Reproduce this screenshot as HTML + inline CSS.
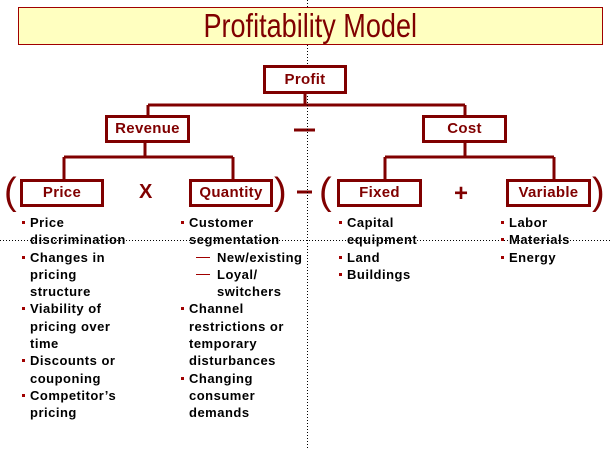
<!DOCTYPE html>
<html><head><meta charset="utf-8"><style>
body{margin:0;width:612px;height:450px;background:#fff;position:relative;overflow:hidden;font-family:"Liberation Sans",Arial,sans-serif}
.t{position:absolute;left:18px;top:7px;width:583px;height:36px;background:#ffffc0;border:1px solid #a00000;text-align:center;color:#800000;font-size:33px;line-height:36px;}
.t span{display:inline-block;transform:scaleX(0.82);}
.b{position:absolute;box-sizing:border-box;border:3px solid #800000;background:#fff;color:#800000;font-weight:bold;font-size:15px;text-align:center;letter-spacing:0.3px}
.l{position:absolute;font-weight:bold;font-size:13px;letter-spacing:0.5px;line-height:17.3px;color:#000;margin:0;padding:0;list-style:none}
.l li{position:relative}
.l li.s:before{content:"";position:absolute;left:-8px;top:7px;width:3px;height:3px;background:#a00000}
.l li.d:before{content:"";position:absolute;left:-21px;top:8px;width:14px;height:1.5px;background:#a00000}
.p{position:absolute;color:#800000;font-size:38px;line-height:40px}
.op{position:absolute;color:#800000;font-weight:bold;font-size:20px}
</style></head><body>
<svg width="612" height="450" style="position:absolute;left:0;top:0">
<g stroke="#800000" stroke-width="3" fill="none">
<path d="M305 92V105M148 105H465M148 105V116M465 105V116"/>
<path d="M145 142V157M64 157H233M64 157V179M233 157V179"/>
<path d="M465 142V157M385 157H554M385 157V179M554 157V179"/>
<path d="M294 130H315M297 192H312"/>
</g>
<path d="M307.5 0V450" stroke="#000" stroke-width="1" stroke-dasharray="1 2"/>
<path d="M0 240.5H612" stroke="#000" stroke-width="1" stroke-dasharray="1 2"/>
</svg>
<div class="t"><span>Profitability Model</span></div>
<div class="b" style="left:263px;top:65px;width:84px;height:29px;line-height:23px">Profit</div>
<div class="b" style="left:105px;top:115px;width:85px;height:28px;line-height:22px">Revenue</div>
<div class="b" style="left:422px;top:115px;width:85px;height:28px;line-height:22px">Cost</div>
<div class="b" style="left:20px;top:179px;width:84px;height:28px;line-height:22px">Price</div>
<div class="b" style="left:189px;top:179px;width:84px;height:28px;line-height:22px">Quantity</div>
<div class="b" style="left:337px;top:179px;width:85px;height:28px;line-height:22px">Fixed</div>
<div class="b" style="left:506px;top:179px;width:85px;height:28px;line-height:22px">Variable</div>
<div class="p" style="left:4px;top:172px">(</div>
<div class="p" style="left:274px;top:172px">)</div>
<div class="p" style="left:319px;top:172px">(</div>
<div class="p" style="left:592px;top:172px">)</div>
<div class="op" style="left:139px;top:181px">X</div>
<div class="op" style="left:454px;top:180px;font-size:24px">+</div>
<ul class="l" style="left:30px;top:214px"><li class="s">Price<br>discrimination</li><li class="s">Changes in<br>pricing<br>structure</li><li class="s">Viability of<br>pricing over<br>time</li><li class="s">Discounts or<br>couponing</li><li class="s">Competitor’s<br>pricing</li></ul>
<ul class="l" style="left:189px;top:214px"><li class="s">Customer<br>segmentation</li><li class="d" style="margin-left:28px">New/existing</li><li class="d" style="margin-left:28px">Loyal/<br>switchers</li><li class="s">Channel<br>restrictions or<br>temporary<br>disturbances</li><li class="s">Changing<br>consumer<br>demands</li></ul>
<ul class="l" style="left:347px;top:214px"><li class="s">Capital<br>equipment</li><li class="s">Land</li><li class="s">Buildings</li></ul>
<ul class="l" style="left:509px;top:214px"><li class="s">Labor</li><li class="s">Materials</li><li class="s">Energy</li></ul>
</body></html>
